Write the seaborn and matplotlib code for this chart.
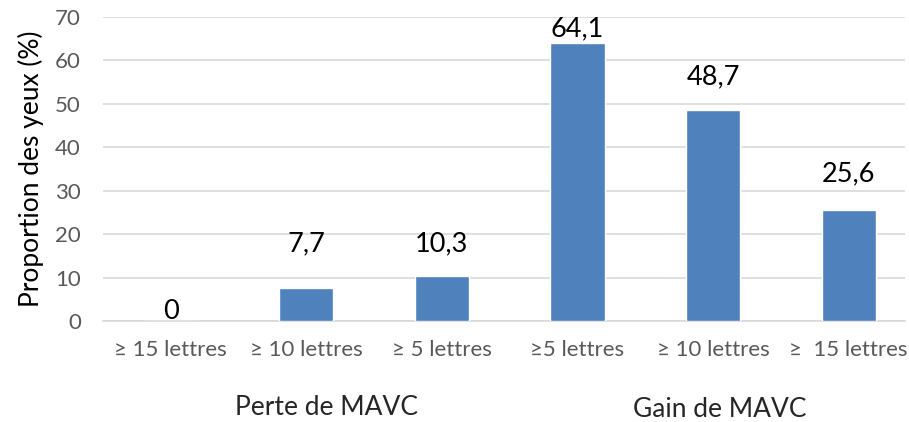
import matplotlib
matplotlib.use('Agg')
import matplotlib.pyplot as plt
import matplotlib.transforms as mtransforms
import seaborn as sns
import pandas as pd

# données du graphique
categories = ['≥ 15 lettres', '≥ 10 lettres', '≥ 5 lettres', '≥5 lettres', '≥ 10 lettres', '≥  15 lettres']
values = [0, 7.7, 10.3, 64.1, 48.7, 25.6]
groups = ['Perte de MAVC', 'Gain de MAVC']
y_ticks = [0, 10, 20, 30, 40, 50, 60, 70]

sns.set_style('white')
plt.rcParams['font.family'] = ['Lato', 'DejaVu Sans']

df = pd.DataFrame({'pos': range(len(values)), 'val': values})

fig = plt.figure(figsize=(9.09, 4.22), dpi=100)
ax = fig.add_axes([103 / 909, 1 - 321 / 422, 802 / 909, 304 / 422])

sns.barplot(data=df, x='pos', y='val', color='#4F81BD', saturation=1,
            width=0.4, ax=ax, zorder=3)

ax.set_xlim(-0.5, 5.415)
ax.set_ylim(0, 70)
ax.set_yticks(y_ticks)
ax.set_xticks(range(len(categories)))
ax.set_xticklabels(categories)
ax.yaxis.grid(True, color='#D9D9D9', linewidth=1.2, zorder=0)
ax.set_axisbelow(True)
for s in ['top', 'right', 'left']:
    ax.spines[s].set_visible(False)
ax.spines['bottom'].set_color('#D9D9D9')
ax.spines['bottom'].set_linewidth(1.2)
ax.tick_params(axis='both', length=0, labelsize=16, labelcolor='#595959')
ax.tick_params(axis='x', pad=14)
ax.tick_params(axis='y', pad=16)
ax.set_xlabel('')
ax.set_ylabel('Proportion des yeux (%)', fontsize=19, color='black', labelpad=8)

# étiquettes de valeurs (position comme dans Excel)
label_y = [2.3, 17.7, 17.7, 67.2, 56.2, 33.8]
for i, v in enumerate(values):
    txt = f'{v:g}'.replace('.', ',')
    ax.text(i, label_y[i], txt, ha='center', va='center', fontsize=19.5, color='black')

# libellés de groupes
trans = mtransforms.blended_transform_factory(ax.transData, ax.transAxes)
ax.text(1.15, -0.286, groups[0], ha='center', va='center', fontsize=19, transform=trans)
ax.text(4.05, -0.292, groups[1], ha='center', va='center', fontsize=19, transform=trans)

plt.savefig('out.png', dpi=100)
